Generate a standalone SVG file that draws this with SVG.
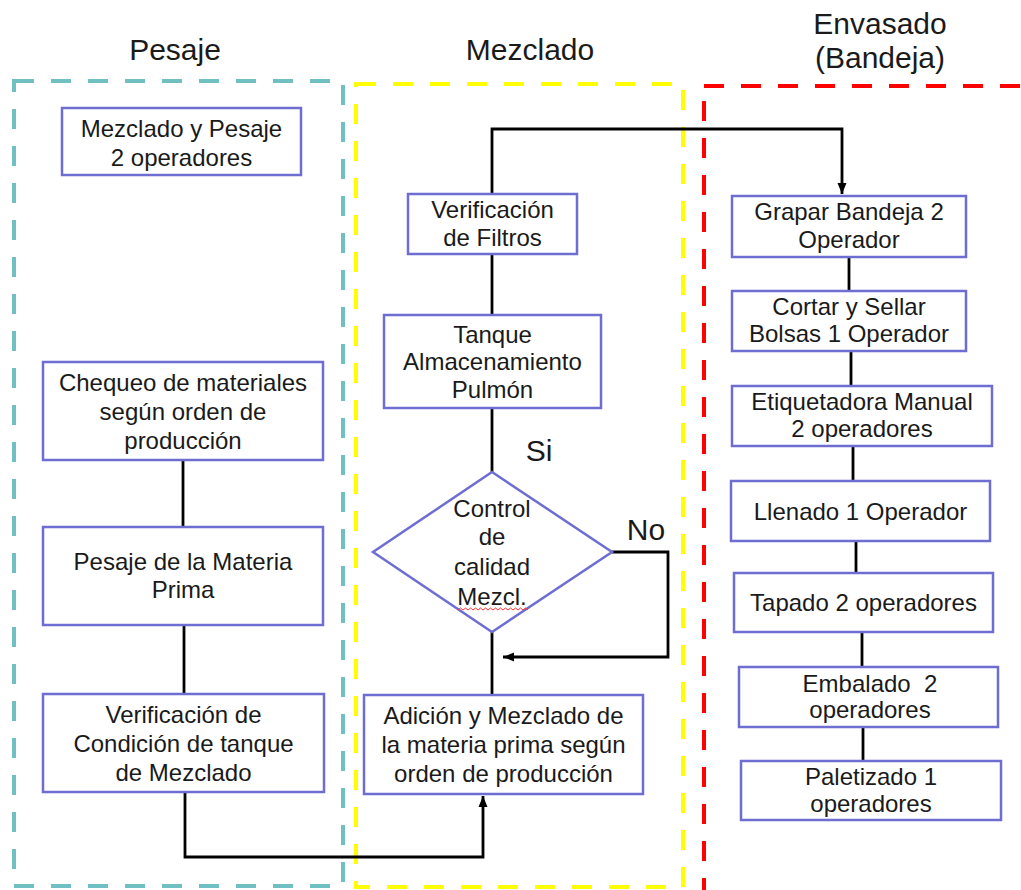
<svg xmlns="http://www.w3.org/2000/svg" width="1021" height="890" viewBox="0 0 1021 890">
<style>
.frame{fill:none;stroke-width:4;stroke-dasharray:20 17}
.box{fill:#fff;stroke:#6e6ed2;stroke-width:2.5}
.t{font-family:"Liberation Sans",Arial,sans-serif;font-size:24px;fill:#1a1a1a;text-anchor:middle}
.h{font-family:"Liberation Sans",Arial,sans-serif;font-size:30px;fill:#1a1a1a;text-anchor:middle}
.c{fill:none;stroke:#000;stroke-width:2.8}
</style>
<defs>
<marker id="ar" markerUnits="userSpaceOnUse" markerWidth="12" markerHeight="12" viewBox="0 0 12 12" refX="11" refY="6" orient="auto">
<path d="M0,1.5 L11,6 L0,10.5 Z" fill="#000"/>
</marker>
</defs>
<rect width="1021" height="890" fill="#fff"/>
<g id="frames">
<rect class="frame" x="14" y="81" width="329" height="805" stroke="#6fbfc3"/>
<rect class="frame" x="356" y="84" width="327" height="803" stroke="#ffff00"/>
<rect class="frame" x="704" y="86" width="400" height="820" stroke="#ff0000"/>
</g>
<g id="titles">
<text class="h" x="175" y="60">Pesaje</text>
<text class="h" x="530" y="60">Mezclado</text>
<text class="h" x="880" y="34">Envasado</text>
<text class="h" x="880" y="68">(Bandeja)</text>
</g>
<g id="connectors">
<path class="c" d="M492,194 V129 H842 V194" marker-end="url(#ar)"/>
<path class="c" d="M492,254 V315"/>
<path class="c" d="M492,408 V472"/>
<path class="c" d="M492,632 V695"/>
<path class="c" d="M612,552 H668 V657 H503" marker-end="url(#ar)"/>
<path class="c" d="M183,460 V527"/>
<path class="c" d="M184,625 V694"/>
<path class="c" d="M185,792 V857 H483 V796" marker-end="url(#ar)"/>
<path class="c" d="M849,257 V291"/>
<path class="c" d="M851,351 V386"/>
<path class="c" d="M853,446 V481"/>
<path class="c" d="M856,541 V573"/>
<path class="c" d="M862,632 V667"/>
<path class="c" d="M863,727 V761"/>
</g>
<g id="labels">
<text class="h" x="539" y="461">Si</text>
<text class="h" x="646" y="540">No</text>
</g>
<g id="n-mezclado-pesaje">
<rect class="box" x="62" y="108" width="239" height="67"/>
<text class="t" x="181.5" y="137">Mezclado y Pesaje</text>
<text class="t" x="181.5" y="166">2 operadores</text>
</g>
<g id="n-chequeo">
<rect class="box" x="43" y="362" width="280" height="98"/>
<text class="t" x="183" y="391">Chequeo de materiales</text>
<text class="t" x="183" y="420">según orden de</text>
<text class="t" x="183" y="449">producción</text>
</g>
<g id="n-pesaje-mp">
<rect class="box" x="43" y="527" width="280" height="98"/>
<text class="t" x="183" y="570">Pesaje de la Materia</text>
<text class="t" x="183" y="598">Prima</text>
</g>
<g id="n-verif-cond">
<rect class="box" x="43" y="694" width="281" height="98"/>
<text class="t" x="183.5" y="723">Verificación de</text>
<text class="t" x="183.5" y="752">Condición de tanque</text>
<text class="t" x="183.5" y="781">de Mezclado</text>
</g>
<g id="n-verif-filtros">
<rect class="box" x="408" y="194" width="169" height="60"/>
<text class="t" x="492.5" y="218">Verificación</text>
<text class="t" x="492.5" y="246">de Filtros</text>
</g>
<g id="n-tanque">
<rect class="box" x="384" y="315" width="217" height="93"/>
<text class="t" x="492.5" y="343">Tanque</text>
<text class="t" x="492.5" y="370">Almacenamiento</text>
<text class="t" x="492.5" y="398">Pulmón</text>
</g>
<g id="n-control">
<polygon class="box" points="492,472 612,552 492,632 373,552"/>
<text class="t" x="492" y="517">Control</text>
<text class="t" x="492" y="545">de</text>
<text class="t" x="492" y="575">calidad</text>
<text class="t" x="492" y="605">Mezcl.</text>
<path d="M458,610 l2.5,-2 l2.5,2 l2.5,-2 l2.5,2 l2.5,-2 l2.5,2 l2.5,-2 l2.5,2 l2.5,-2 l2.5,2 l2.5,-2 l2.5,2 l2.5,-2 l2.5,2 l2.5,-2 l2.5,2 l2.5,-2 l2.5,2 l2.5,-2 l2.5,2 l2.5,-2 l2.5,2 l2.5,-2 l2.5,2 l2.5,-2 l2.5,2 l2.5,-2 l2.5,2" fill="none" stroke="#ff3030" stroke-width="1"/>
</g>
<g id="n-adicion">
<rect class="box" x="364" y="695" width="279" height="99"/>
<text class="t" x="503.5" y="724">Adición y Mezclado de</text>
<text class="t" x="503.5" y="753">la materia prima según</text>
<text class="t" x="503.5" y="782">orden de producción</text>
</g>
<g id="n-grapar">
<rect class="box" x="732" y="196" width="234" height="61"/>
<text class="t" x="849" y="220">Grapar Bandeja 2</text>
<text class="t" x="849" y="248">Operador</text>
</g>
<g id="n-cortar">
<rect class="box" x="732" y="291" width="234" height="60"/>
<text class="t" x="849" y="315">Cortar y Sellar</text>
<text class="t" x="849" y="342">Bolsas 1 Operador</text>
</g>
<g id="n-etiquetadora">
<rect class="box" x="732" y="386" width="260" height="60"/>
<text class="t" x="862" y="410">Etiquetadora Manual</text>
<text class="t" x="862" y="437">2 operadores</text>
</g>
<g id="n-llenado">
<rect class="box" x="731" y="481" width="259" height="60"/>
<text class="t" x="860.5" y="520">Llenado 1 Operador</text>
</g>
<g id="n-tapado">
<rect class="box" x="734" y="573" width="259" height="59"/>
<text class="t" x="863.5" y="611">Tapado 2 operadores</text>
</g>
<g id="n-embalado">
<rect class="box" x="739" y="667" width="259" height="60"/>
<text class="t" x="870" y="692" xml:space="preserve">Embalado  2</text>
<text class="t" x="870" y="718">operadores</text>
</g>
<g id="n-paletizado">
<rect class="box" x="741" y="761" width="260" height="59"/>
<text class="t" x="871" y="785">Paletizado 1</text>
<text class="t" x="871" y="812">operadores</text>
</g>
</svg>
